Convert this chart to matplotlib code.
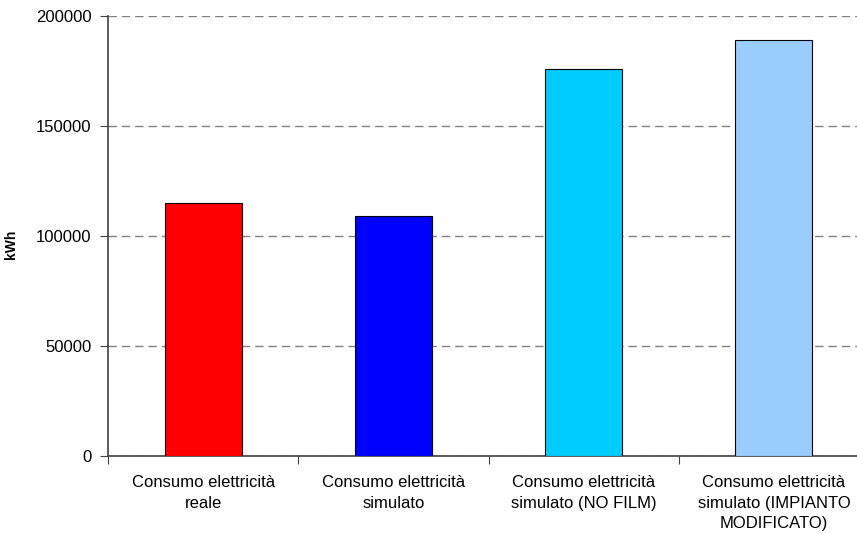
import matplotlib.pyplot as plt
import numpy as np

plt.rcParams['font.family'] = ['Liberation Sans', 'DejaVu Sans']

categorie = [
    "Consumo elettricità\nreale",
    "Consumo elettricità\nsimulato",
    "Consumo elettricità\nsimulato (NO FILM)",
    "Consumo elettricità\nsimulato (IMPIANTO\nMODIFICATO)",
]
consumi = [115000, 109000, 176000, 189000]
colori = ["#FF0000", "#0000FF", "#00CCFF", "#99CCFF"]

fig = plt.figure(figsize=(8.57, 5.34), dpi=100)
# the plot area runs a little past the right edge of the figure
ax = fig.add_axes([108 / 857, 78 / 534, 761 / 857, 440 / 534])

x = np.arange(len(consumi))
ax.bar(x, consumi, width=0.405, color=colori, edgecolor="black", linewidth=0.8, zorder=3)

ax.set_xlim(-0.5, len(consumi) - 0.5)
ax.set_ylim(0, 200000)
ax.set_yticks(np.arange(0, 200001, 50000))
ax.yaxis.grid(True, linestyle=(0, (6, 3.6)), color="#808080", linewidth=1.0, zorder=0)

# category labels sit between the boundary ticks
ax.set_xticks(np.arange(-0.5, len(consumi) - 0.5, 1.0))
ax.set_xticklabels([])
ax.set_xticks(x, minor=True)
ax.set_xticklabels(categorie, minor=True, fontsize=12, linespacing=1.45)
ax.tick_params(axis="x", which="minor", length=0, pad=14)
ax.tick_params(axis="x", which="major", length=6, color="#404040")
ax.tick_params(axis="y", length=6, color="#404040", labelsize=12, pad=6)

for s in ["top", "right"]:
    ax.spines[s].set_visible(False)
for s in ["left", "bottom"]:
    ax.spines[s].set_color("#404040")
    ax.spines[s].set_linewidth(1.2)

ax.set_ylabel("kWh", fontsize=10, fontweight="bold")
ax.yaxis.set_label_coords(-0.118, 0.48)

fig.savefig("out.png", dpi=100)
